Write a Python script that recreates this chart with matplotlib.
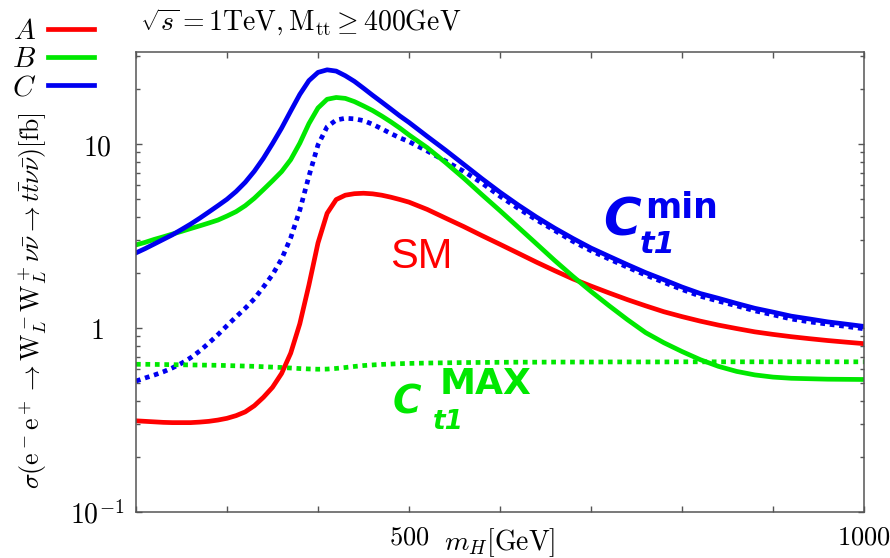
import numpy as np
import matplotlib
matplotlib.use('Agg')
import matplotlib.pyplot as plt
from matplotlib.ticker import LogLocator, NullFormatter

# Higgs mass [GeV]
mh = [200, 210, 220, 230, 240, 250, 260, 270, 280, 290, 300, 310, 320, 330, 340, 350,
      360, 370, 380, 390, 400, 410, 420, 430, 440, 450, 460, 470, 480, 490, 500,
      520, 540, 560, 580, 600, 620, 640, 660, 680, 700, 720, 740, 760, 780, 800,
      820, 840, 860, 880, 900, 920, 940, 960, 980, 1000]

# cross sections [fb]
sig_A = [0.313, 0.311, 0.309, 0.307, 0.306, 0.306, 0.306, 0.308, 0.311, 0.316, 0.323, 0.334, 0.350, 0.378, 0.420, 0.476,
         0.566, 0.73, 1.054, 1.71, 2.90, 4.20, 4.99, 5.27, 5.37, 5.40, 5.36, 5.27, 5.14, 4.99, 4.83,
         4.41, 3.96, 3.56, 3.18, 2.85, 2.55, 2.28, 2.05, 1.85, 1.69, 1.55, 1.426, 1.32, 1.226, 1.153,
         1.09, 1.037, 0.993, 0.953, 0.923, 0.897, 0.875, 0.855, 0.838, 0.822]
sig_B = [2.83, 2.92, 3.03, 3.13, 3.24, 3.35, 3.47, 3.59, 3.72, 3.86, 4.06, 4.29, 4.62, 5.07, 5.65, 6.31,
         7.08, 8.22, 10.1, 12.9, 15.7, 17.5, 17.9, 17.7, 17.0, 16.1, 15.2, 14.2, 13.2, 12.2, 11.2,
         9.55, 7.94, 6.53, 5.31, 4.34, 3.53, 2.87, 2.33, 1.91, 1.58, 1.32, 1.11, 0.944, 0.832, 0.745,
         0.673, 0.619, 0.581, 0.556, 0.541, 0.533, 0.530, 0.527, 0.526, 0.525]
sig_C = [2.56, 2.70, 2.86, 3.03, 3.21, 3.43, 3.67, 3.95, 4.27, 4.62, 5.01, 5.52, 6.19, 7.11, 8.36, 10.05,
         12.2, 15.1, 18.6, 22.1, 24.5, 25.3, 24.9, 23.5, 21.9, 20.1, 18.4, 16.9, 15.5, 14.2, 13.1,
         11.0, 9.27, 7.76, 6.49, 5.47, 4.66, 4.01, 3.49, 3.07, 2.72, 2.45, 2.21, 2.0, 1.83, 1.67,
         1.54, 1.45, 1.36, 1.28, 1.22, 1.16, 1.12, 1.08, 1.05, 1.02]
sig_Cmin = [0.515, 0.535, 0.555, 0.578, 0.607, 0.643, 0.689, 0.750, 0.828, 0.920, 1.03, 1.15, 1.28, 1.44, 1.67, 1.95,
            2.37, 3.09, 4.37, 6.68, 9.89, 12.4, 13.5, 13.8, 13.7, 13.4, 12.8, 12.1, 11.4, 10.8, 10.3,
            9.16, 8.09, 7.11, 6.14, 5.20, 4.47, 3.87, 3.39, 2.96, 2.63, 2.37, 2.14, 1.94, 1.77, 1.62,
            1.49, 1.40, 1.32, 1.24, 1.18, 1.12, 1.08, 1.05, 1.02, 0.99]
sig_Cmax = [0.635, 0.635, 0.634, 0.633, 0.632, 0.631, 0.630, 0.629, 0.628, 0.627, 0.625, 0.623, 0.621, 0.619, 0.616, 0.613,
            0.610, 0.606, 0.602, 0.599, 0.597, 0.598, 0.603, 0.610, 0.618, 0.625, 0.630, 0.634, 0.637, 0.640, 0.642,
            0.645, 0.647, 0.649, 0.650, 0.651, 0.652, 0.652, 0.653, 0.653, 0.653, 0.654, 0.654, 0.654, 0.654, 0.655,
            0.655, 0.655, 0.655, 0.655, 0.655, 0.655, 0.655, 0.655, 0.655, 0.655]

xtick_vals = [200, 300, 400, 500, 600, 700, 800, 900, 1000]
xtick_labels = ['', '', '', '$500$', '', '', '', '', '$1000$']
ytick_vals = [0.1, 1, 10]
ytick_labels = ['$10^{-1}$', '$1$', '$10$']

RED = '#ff0000'
GREEN = '#00e800'
BLUE = '#0000f0'

plt.rcParams['mathtext.fontset'] = 'cm'

fig = plt.figure(figsize=(8.9, 5.58), dpi=100)
ax = fig.add_axes([136/890, 1-512/558, 728/890, 460/558])
ax.set_yscale('log')

lw = 3.4
ax.plot(mh, sig_Cmin, color=BLUE, lw=lw, ls=(0, (1, 1)))
ax.plot(mh, sig_Cmax, color=GREEN, lw=lw, ls=(0, (1, 1)))
ax.plot(mh, sig_A, color=RED, lw=lw, label='$A$')
ax.plot(mh, sig_B, color=GREEN, lw=lw, label='$B$')
ax.plot(mh, sig_C, color=BLUE, lw=lw, label='$C$')

ax.set_xlim(200, 1000)
ax.set_ylim(0.1, 10**1.5)

ax.set_xticks(xtick_vals, xtick_labels)
ax.set_yticks(ytick_vals, ytick_labels)
ax.yaxis.set_minor_locator(LogLocator(base=10, subs=np.arange(2, 10)))
ax.yaxis.set_minor_formatter(NullFormatter())
ax.tick_params(which='both', direction='in', top=True, right=True, color='#555555', labelsize=20)
ax.tick_params(which='major', length=4.5, width=1)
ax.tick_params(which='minor', length=3, width=1)
ax.tick_params(axis='x', pad=9, labelsize=19)
ax.tick_params(axis='y', pad=28)
for lbl in ax.get_yticklabels():
    lbl.set_horizontalalignment('center')
for sp in ax.spines.values():
    sp.set_color('#555555')
    sp.set_linewidth(1.1)

ax.set_xlabel(r'$m_H[\mathrm{GeV}]$', fontsize=20)
ax.xaxis.set_label_coords(0.5, -0.031)
fig.text(33/890, 1-301/558,
         r'$\sigma(\mathrm{e}^-\mathrm{e}^+\rightarrow \mathrm{W}_L^-\mathrm{W}_L^+\nu\bar{\nu}\rightarrow t\bar{t}\nu\bar{\nu})[\mathrm{fb}]$',
         rotation=90, ha='center', va='center', fontsize=18.5)
fig.text(140/890, 1-22/558, r'$\sqrt{s}=1\mathrm{TeV},\mathrm{M}_{\mathrm{tt}}\geq 400\mathrm{GeV}$',
         ha='left', va='center', fontsize=20)

ax.legend(loc='upper left', bbox_to_anchor=(12/890, 1-17/558), bbox_transform=fig.transFigure,
          frameon=False, markerfirst=False, fontsize=21, handlelength=1.6, handletextpad=0.4,
          labelspacing=0.0, borderaxespad=0, borderpad=0)

ax.text(513, 2.43, 'SM', color=RED, fontsize=30, family='Liberation Sans', ha='center', va='center')


def coupling_label(x, y, color, sup, c_size, sup_size, sub_size, sup_off, sub_off):
    ax.annotate('C', (x, y), color=color, fontsize=c_size, fontweight='bold', fontstyle='italic',
                ha='left', va='baseline')
    ax.annotate(sup, (x, y), xytext=sup_off, textcoords='offset pixels', color=color,
                fontsize=sup_size, fontweight='bold', ha='left', va='baseline')
    ax.annotate('t1', (x, y), xytext=sub_off, textcoords='offset pixels', color=color,
                fontsize=sub_size, fontweight='bold', fontstyle='italic', ha='left', va='baseline')


coupling_label(713, 3.20, BLUE, 'min', 37, 25, 22, (42, 17), (37, -18))
coupling_label(482, 0.345, GREEN, 'MAX', 28, 26, 19, (47, 19), (40, -16))

fig.savefig('out.png', dpi=100)
